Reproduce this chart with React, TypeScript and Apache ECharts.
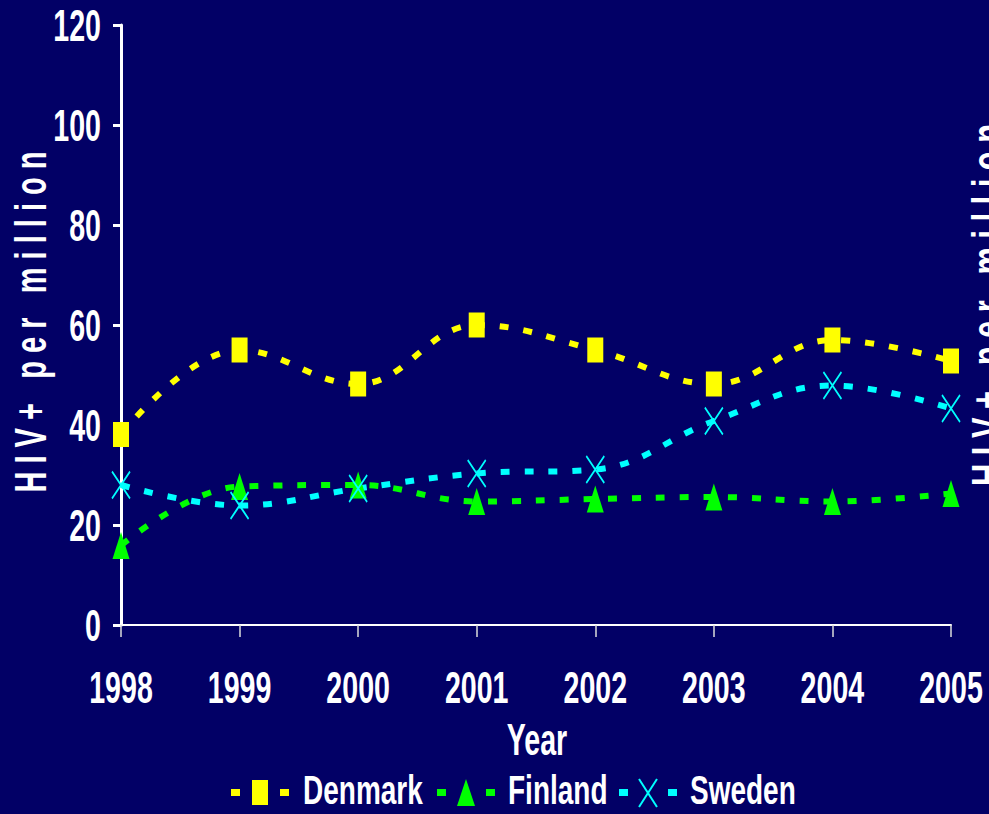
import React, { useEffect, useRef } from "react";
import * as echarts from "echarts";

const years = ["1998", "1999", "2000", "2001", "2002", "2003", "2004", "2005"];
const denmark = [38.1, 55.0, 48.2, 60.0, 55.0, 48.2, 57.0, 52.8];
const finland = [15.9, 27.7, 28.0, 24.7, 25.2, 25.6, 24.7, 26.3];
const sweden = [28.0, 23.9, 27.3, 30.3, 31.1, 40.8, 47.9, 43.3];
const yTickValues = [0, 20, 40, 60, 80, 100, 120];
const seriesNames = ["Denmark", "Finland", "Sweden"];
const seriesColors = ["#ffff00", "#00ff00", "#00ffff"];

const BG = "#020066";
const FONT = "bold 44px Liberation Sans, Arial, sans-serif";
const TITLE = "H I V +   p e r   m i l l i o n";
const SQ = 0.65;

export default function App() {
  const ref = useRef<HTMLDivElement>(null);
  useEffect(() => {
    if (!ref.current) return;
    const chart = echarts.init(ref.current, null, { renderer: "svg" });
    const dash = [9, 15];
    const mk = (i: number, data: number[], symbol: string, size: number[], extraItem: any = {}) => ({
      name: seriesNames[i],
      type: "line",
      data,
      smooth: 0.4,
      symbol,
      symbolSize: size,
      showSymbol: true,
      lineStyle: { color: seriesColors[i], width: 6, type: dash },
      itemStyle: { color: seriesColors[i], ...extraItem },
    });
    const XPATH = "path://M0,0L18,28M18,0L0,28";
    chart.setOption({
      animation: false,
      backgroundColor: BG,
      grid: { left: 121, right: 38, top: 25, bottom: 189, containLabel: false, outerBoundsMode: "none" },
      xAxis: {
        type: "category",
        data: years,
        boundaryGap: false,
        axisLine: { show: true, lineStyle: { color: "#fff", width: 2 } },
        axisTick: { show: true, alignWithLabel: true, interval: 0, length: 12, lineStyle: { color: "#ddd", width: 1.5 } },
        axisLabel: { show: false },
        splitLine: { show: false },
      },
      yAxis: {
        type: "value",
        min: 0,
        max: 120,
        interval: 20,
        axisLine: { show: true, lineStyle: { color: "#fff", width: 3 } },
        axisTick: { show: true, length: 8, lineStyle: { color: "#fff", width: 3 } },
        axisLabel: { show: false },
        splitLine: { show: false },
      },
      series: [
        mk(0, denmark, "rect", [16, 25]),
        mk(1, finland, "triangle", [17, 27]),
        mk(2, sweden, XPATH, [18, 27], { borderColor: seriesColors[2], borderWidth: 2 }),
      ],
    });

    const txt = (text: string, x: number, y: number, align: string, scaleX = SQ, font = FONT) => ({
      type: "text",
      x,
      y,
      scaleX,
      style: { text, fill: "#fff", font, align, verticalAlign: "middle" },
    });
    const g: any[] = [];
    years.forEach((yr) => {
      const px = chart.convertToPixel({ xAxisIndex: 0 }, yr) as number;
      g.push(txt(yr, px, 688, "center"));
    });
    yTickValues.forEach((v) => {
      const py = chart.convertToPixel({ yAxisIndex: 0 }, v) as number;
      g.push(txt(String(v), 101, py + 1, "right"));
    });
    g.push(txt("Year", 537, 740, "center"));

    // axis titles (rotated)
    g.push({
      type: "text",
      x: 31,
      y: 322,
      rotation: Math.PI / 2,
      scaleX: 0.66,
      style: { text: TITLE, fill: "#fff", font: "bold 44px Liberation Sans, Arial, sans-serif", align: "center", verticalAlign: "middle" },
    });
    g.push({
      type: "text",
      x: 988,
      y: 305,
      rotation: Math.PI / 2,
      scaleX: 0.7,
      style: { text: TITLE, fill: "#fff", font: "bold 44px Liberation Sans, Arial, sans-serif", align: "center", verticalAlign: "middle" },
    });

    // legend
    const legendX = [231, 437, 619];
    const legendTextX = [303, 508, 690];
    const ly = 792;
    seriesNames.forEach((name, i) => {
      const c = seriesColors[i];
      const x0 = legendX[i];
      g.push({ type: "rect", shape: { x: x0, y: ly - 3, width: 9, height: 7 }, style: { fill: c } });
      g.push({ type: "rect", shape: { x: x0 + 49, y: ly - 3, width: 9, height: 7 }, style: { fill: c } });
      const cx = x0 + 29;
      if (i === 0) {
        g.push({ type: "rect", shape: { x: cx - 8, y: ly - 12, width: 16, height: 25 }, style: { fill: c } });
      } else if (i === 1) {
        g.push({ type: "polygon", shape: { points: [[cx, ly - 13], [cx + 9, ly + 14], [cx - 9, ly + 14]] }, style: { fill: c } });
      } else {
        g.push({ type: "line", shape: { x1: cx - 9, y1: ly - 13, x2: cx + 9, y2: ly + 15 }, style: { stroke: c, lineWidth: 2 } });
        g.push({ type: "line", shape: { x1: cx + 9, y1: ly - 13, x2: cx - 9, y2: ly + 15 }, style: { stroke: c, lineWidth: 2 } });
      }
      g.push(txt(name, legendTextX[i], 790, "left", 0.7, "bold 40px Liberation Sans, Arial, sans-serif"));
    });

    chart.setOption({ graphic: g });
    return () => chart.dispose();
  }, []);
  return <div ref={ref} style={{ width: 989, height: 814, position: "absolute", left: 0, top: 0 }} />;
}
